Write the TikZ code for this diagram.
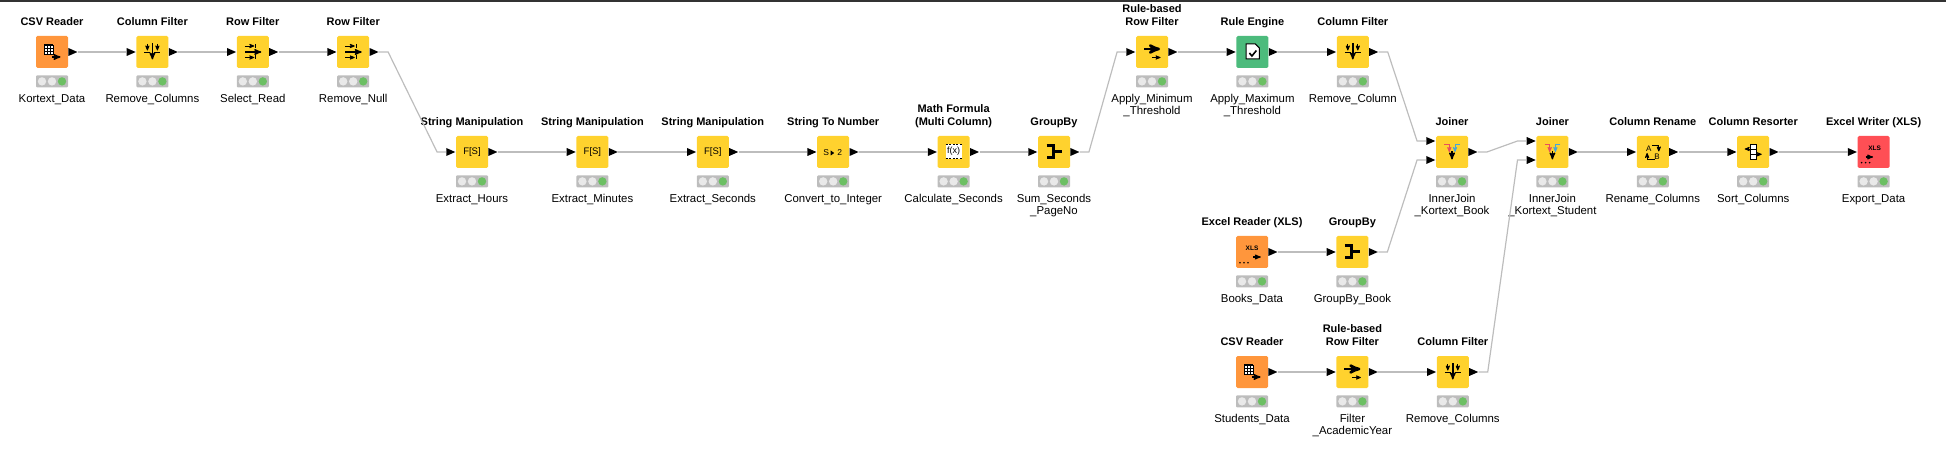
\documentclass[tikz,border=0pt]{standalone}
\usepackage{fontspec}
\setmainfont{Liberation Sans}
\usetikzlibrary{positioning,calc,arrows,shapes.geometric}
\definecolor{kyellow}{HTML}{FFD22E}
\definecolor{korange}{HTML}{FF963C}
\definecolor{kred}{HTML}{FF4F55}
\definecolor{kgreen}{HTML}{4CBB7C}
\definecolor{klamp}{HTML}{BDBDBD}
\definecolor{klampoff}{HTML}{E9E9E9}
\definecolor{klampon}{HTML}{6CBF63}
\definecolor{klink}{HTML}{BDBDBD}
\definecolor{kjoinred}{HTML}{E8505B}
\definecolor{kjoinblue}{HTML}{4AA6D6}
\tikzset{
  knode/.style={rectangle,rounded corners=1.5pt,minimum size=32pt,inner sep=0pt},
  tool/.style={knode,fill=kyellow},
  reader/.style={knode,fill=korange},
  writer/.style={knode,fill=kred},
  engine/.style={knode,fill=kgreen},
  khead/.style={font=\bfseries\fontsize{11}{13}\selectfont,align=center,inner sep=0pt,text depth=0pt,label distance=10pt},
  kname/.style={font=\fontsize{11.4}{12}\selectfont,align=center,inner sep=0pt,label distance=26pt},
  lampbar/.style={rectangle,rounded corners=1pt,fill=klamp,minimum width=32pt,minimum height=12pt,inner sep=0pt},
  port/.style={isosceles triangle,isosceles triangle stretches,fill=black,inner sep=0pt,
    minimum width=8pt,minimum height=9pt,shape border rotate=0},
  link/.style={draw=klink,line width=1.2pt},
  kink/.style={to path={-- ++(9,0) -- ($(\tikztotarget)+(-9,0)$) -- (\tikztotarget)}},
  thinarrow/.style={->,>=stealth',line width=0.8pt,shorten >=-0.5pt},
  fatarrow/.style={->,>=stealth',line width=1.4pt,shorten >=-0.5pt},
  icontext/.style={inner sep=0pt,font=\bfseries\fontsize{6.5}{7}\selectfont}
}
\newcommand{\icontable}[1]{\begin{scope}[shift={(#1)}]
  \fill[white] (-8,-7) rectangle (1,2);
  \draw[line width=0.7pt] (-8,-7) rectangle (1,2);
  \foreach \gridx in {-5,-2} \draw[line width=0.7pt] (\gridx,-7) -- (\gridx,2);
  \foreach \gridy in {-4,-1} \draw[line width=0.7pt] (-8,\gridy) -- (1,\gridy);
  \draw[line width=1.6pt] (-8,-7) -- (1,-7);
  \draw[fatarrow] (0,5) -- (8,5);
\end{scope}}
\newcommand{\iconxlsread}[1]{\begin{scope}[shift={(#1)}]
  \node[icontext] (#1-xls) at (0,-3.7) {XLS};
  \draw[fatarrow,line width=1.1pt] (1,5) -- (8.3,5);
  \foreach \dotx in {-12,-8,-4} \fill (\dotx,10.7) circle (0.9pt);
\end{scope}}
\newcommand{\iconxlswrite}[1]{\begin{scope}[shift={(#1)}]
  \node[icontext] (#1-xls) at (1,-3.7) {XLS};
  \draw[fatarrow,line width=1.1pt] (-8,5) -- (-1,5);
  \foreach \dotx in {-12,-8,-4} \fill (\dotx,10.7) circle (0.9pt);
\end{scope}}
\newcommand{\iconcolumn}[1]{\begin{scope}[shift={(#1)}]
  \draw[fatarrow] (0,-9) -- (0,7);
  \draw[thinarrow] (-5,-8) -- (-5,-2);
  \draw[thinarrow] (5,-8) -- (5,-2);
  \draw[line width=0.8pt] (-8,0.5) -- (-2,0.5) (2,0.5) -- (8,0.5);
\end{scope}}
\newcommand{\iconrow}[1]{\begin{scope}[shift={(#1)}]
  \draw[fatarrow] (-8,0) -- (8,0);
  \draw[thinarrow] (-8,-6) -- (1,-6);
  \draw[thinarrow] (-8,5.5) -- (1,5.5);
  \draw[line width=0.8pt] (3,-8) -- (3,-4) (3,3.5) -- (3,7.5);
\end{scope}}
\newcommand{\iconrule}[1]{\begin{scope}[shift={(#1)}]
  \draw[->,>=stealth',line width=2.6pt] (-8,-3) -- (8,-3);
  \draw[thinarrow] (0,5.5) -- (8,5.5);
\end{scope}}
\newcommand{\iconcheck}[1]{\begin{scope}[shift={(#1)}]
  \draw[line width=1pt,fill=white] (-6.3,-8) -- (3,-8) -- (7,-4) -- (7,7) -- (-6.3,7) -- cycle;
  \draw[line width=1.6pt] (-3,1) -- (-0.5,4) -- (4,-1.5);
\end{scope}}
\newcommand{\iconstring}[1]{\begin{scope}[shift={(#1)}]
  \node[inner sep=0pt,font=\fontsize{9.5}{10}\selectfont] (#1-txt) at (0,0) {F[S]};
\end{scope}}
\newcommand{\iconnumber}[1]{\begin{scope}[shift={(#1)}]
  \node[inner sep=0pt,font=\fontsize{8.5}{9}\selectfont] (#1-s) at (-7,1) {S};
  \node[inner sep=0pt,font=\fontsize{8.5}{9}\selectfont] (#1-two) at (6.5,1) {2};
  \fill (-2.5,-1.5) -- (1,1) -- (-2.5,3.5) -- cycle;
\end{scope}}
\newcommand{\iconformula}[1]{\begin{scope}[shift={(#1)}]
  \fill[white] (-8,-8) rectangle (8,7);
  \draw[line width=1.6pt,dash pattern=on 2pt off 1.5pt] (-8,-7.5) -- (8,-7.5) (-8,6.5) -- (8,6.5);
  \node[inner sep=0pt,font=\fontsize{9}{10}\selectfont] (#1-txt) at (0,-0.5) {f(x)};
\end{scope}}
\newcommand{\icongroup}[1]{\begin{scope}[shift={(#1)}]
  \draw[line width=3pt] (-7.5,-6) -- (-1,-6) -- (-1,5.5) -- (-7.5,5.5);
  \draw[line width=3pt] (-1,0) -- (8,0);
\end{scope}}
\newcommand{\iconjoin}[1]{\begin{scope}[shift={(#1)}]
  \draw[thinarrow,kjoinred] (-7.7,-7.7) -- (-2.7,-7.7) -- (-2.7,-0.5);
  \draw[thinarrow,kjoinblue] (8,-7.7) -- (3,-7.7) -- (3,-0.5);
  \draw[fatarrow] (0,-1) -- (0,7);
\end{scope}}
\newcommand{\iconrename}[1]{\begin{scope}[shift={(#1)}]
  \node[icontext,font=\fontsize{8}{8}\selectfont] (#1-a) at (-4,-3.7) {A};
  \node[icontext,font=\fontsize{8}{8}\selectfont] (#1-b) at (4.3,5) {B};
  \draw[thinarrow] (-1,-7) -- (6,-7) -- (6,-1);
  \draw[thinarrow] (2,7.3) -- (-5.7,7.3) -- (-5.7,1.5);
\end{scope}}
\newcommand{\iconsort}[1]{\begin{scope}[shift={(#1)}]
  \draw[line width=0.8pt,fill=white] (-3,-7.7) rectangle (3,7.7);
  \draw[line width=0.8pt] (-3,-2.5) -- (3,-2.5) (-3,2.5) -- (3,2.5);
  \draw[thinarrow] (0,-3) -- (-8,-3);
  \draw[thinarrow] (0,2.3) -- (8,2.3);
\end{scope}}

\begin{document}
\begin{tikzpicture}[x=1pt,y=-1pt,node distance=68pt]
  \useasboundingbox (0,0) rectangle (1946,470);
  \fill[black!80] (0,0) rectangle (1946,2);

  % top row
  \node[reader,label={[khead]above:CSV Reader},label={[kname]below:Kortext\_Data}] (csvkortext) at (52,52) {};
  \node[tool,right=of csvkortext,label={[khead]above:Column Filter},label={[kname]below:Remove\_Columns}] (colremove) {};
  \node[tool,right=of colremove,label={[khead]above:Row Filter},label={[kname]below:Select\_Read}] (rowread) {};
  \node[tool,right=of rowread,label={[khead]above:Row Filter},label={[kname]below:Remove\_Null}] (rownull) {};

  % second row
  \node[tool,label={[khead]above:String Manipulation},label={[kname]below:Extract\_Hours}] (strhours) at (472,152) {};
  \node[tool,right=88pt of strhours,label={[khead]above:String Manipulation},label={[kname]below:Extract\_Minutes}] (strminutes) {};
  \node[tool,right=88pt of strminutes,label={[khead]above:String Manipulation},label={[kname]below:Extract\_Seconds}] (strseconds) {};
  \node[tool,right=88pt of strseconds,label={[khead]above:String To Number},label={[kname]below:Convert\_to\_Integer}] (tonumber) {};
  \node[tool,right=88pt of tonumber,label={[khead]above:Math Formula\\(Multi Column)},label={[kname]below:Calculate\_Seconds}] (mathsec) {};
  \node[tool,right=of mathsec,label={[khead]above:GroupBy},label={[kname]below:Sum\_Seconds\\\_PageNo}] (groupsec) {};

  \node[tool,label={[khead]above:Rule-based\\Row Filter},label={[kname]below:Apply\_Minimum\\\_Threshold}] (ruleminimum) at (1152,52) {};
  \node[engine,right=of ruleminimum,label={[khead]above:Rule Engine},label={[kname]below:Apply\_Maximum\\\_Threshold}] (rulemaximum) {};
  \node[tool,right=of rulemaximum,label={[khead]above:Column Filter},label={[kname]below:Remove\_Column}] (colthreshold) {};

  % joiners and output
  \node[tool,label={[khead]above:Joiner},label={[kname]below:InnerJoin\\\_Kortext\_Book}] (joinbook) at (1452,152) {};
  \node[tool,right=of joinbook,label={[khead]above:Joiner},label={[kname]below:InnerJoin\\\_Kortext\_Student}] (joinstudent) {};
  \node[tool,right=of joinstudent,label={[khead]above:Column Rename},label={[kname]below:Rename\_Columns}] (renamecols) {};
  \node[tool,right=of renamecols,label={[khead]above:Column Resorter},label={[kname]below:Sort\_Columns}] (sortcols) {};
  \node[writer,right=88pt of sortcols,label={[khead]above:Excel Writer (XLS)},label={[kname]below:Export\_Data}] (writerdata) {};

  % lower branches
  \node[reader,label={[khead]above:Excel Reader (XLS)},label={[kname]below:Books\_Data}] (readerbooks) at (1252,252) {};
  \node[tool,right=of readerbooks,label={[khead]above:GroupBy},label={[kname]below:GroupBy\_Book}] (groupbook) {};
  \node[reader,label={[khead]above:CSV Reader},label={[kname]below:Students\_Data}] (csvstudents) at (1252,372) {};
  \node[tool,right=of csvstudents,label={[khead]above:Rule-based\\Row Filter},label={[kname]below:Filter\\\_AcademicYear}] (rulestudents) {};
  \node[tool,right=of rulestudents,label={[khead]above:Column Filter},label={[kname]below:Remove\_Columns}] (colstudents) {};

  % status lamps
  \foreach \n in {csvkortext,colremove,rowread,rownull,strhours,strminutes,strseconds,tonumber,mathsec,groupsec,
    ruleminimum,rulemaximum,colthreshold,joinbook,joinstudent,renamecols,sortcols,writerdata,
    readerbooks,groupbook,csvstudents,rulestudents,colstudents}{
    \node[lampbar,below=7pt of \n] (\n-lamp) {};
    \fill[klampoff] ($(\n-lamp)+(-10,0)$) circle (4.2pt) ($(\n-lamp)$) circle (4.2pt);
    \fill[klampon] ($(\n-lamp)+(10,0)$) circle (4.2pt);
  }

  % ports
  \foreach \n in {csvkortext,colremove,rowread,rownull,strhours,strminutes,strseconds,tonumber,mathsec,groupsec,
    ruleminimum,rulemaximum,colthreshold,joinbook,joinstudent,renamecols,sortcols,
    readerbooks,groupbook,csvstudents,rulestudents,colstudents}
    \node[port,anchor=lower side] (\n-out) at (\n.east) {};
  \foreach \n in {colremove,rowread,rownull,strhours,strminutes,strseconds,tonumber,mathsec,groupsec,
    ruleminimum,rulemaximum,colthreshold,renamecols,sortcols,writerdata,groupbook,rulestudents,colstudents}
    \node[port,anchor=apex] (\n-in) at (\n.west) {};
  \foreach \n in {joinbook,joinstudent}{
    \node[port,anchor=apex] (\n-in1) at ($(\n.west)+(0,-11)$) {};
    \node[port,anchor=apex] (\n-in2) at ($(\n.west)+(0,8)$) {};
  }

  % connectors
  \draw[link] (csvkortext-out.apex) -- (colremove-in.lower side);
  \draw[link] (colremove-out.apex) -- (rowread-in.lower side);
  \draw[link] (rowread-out.apex) -- (rownull-in.lower side);
  \draw[link] (rownull-out.apex) to[kink] (strhours-in.lower side);
  \draw[link] (strhours-out.apex) -- (strminutes-in.lower side);
  \draw[link] (strminutes-out.apex) -- (strseconds-in.lower side);
  \draw[link] (strseconds-out.apex) -- (tonumber-in.lower side);
  \draw[link] (tonumber-out.apex) -- (mathsec-in.lower side);
  \draw[link] (mathsec-out.apex) -- (groupsec-in.lower side);
  \draw[link] (groupsec-out.apex) to[kink] (ruleminimum-in.lower side);
  \draw[link] (ruleminimum-out.apex) -- (rulemaximum-in.lower side);
  \draw[link] (rulemaximum-out.apex) -- (colthreshold-in.lower side);
  \draw[link] (colthreshold-out.apex) to[kink] (joinbook-in1.lower side);
  \draw[link] (groupbook-out.apex) to[kink] (joinbook-in2.lower side);
  \draw[link] (joinbook-out.apex) to[kink] (joinstudent-in1.lower side);
  \draw[link] (colstudents-out.apex) to[kink] (joinstudent-in2.lower side);
  \draw[link] (joinstudent-out.apex) -- (renamecols-in.lower side);
  \draw[link] (renamecols-out.apex) -- (sortcols-in.lower side);
  \draw[link] (sortcols-out.apex) -- (writerdata-in.lower side);
  \draw[link] (readerbooks-out.apex) -- (groupbook-in.lower side);
  \draw[link] (csvstudents-out.apex) -- (rulestudents-in.lower side);
  \draw[link] (rulestudents-out.apex) -- (colstudents-in.lower side);

  % icons
  \icontable{csvkortext}
  \icontable{csvstudents}
  \iconxlsread{readerbooks}
  \iconxlswrite{writerdata}
  \iconcolumn{colremove}
  \iconcolumn{colthreshold}
  \iconcolumn{colstudents}
  \iconrow{rowread}
  \iconrow{rownull}
  \iconrule{ruleminimum}
  \iconrule{rulestudents}
  \iconcheck{rulemaximum}
  \iconstring{strhours}
  \iconstring{strminutes}
  \iconstring{strseconds}
  \iconnumber{tonumber}
  \iconformula{mathsec}
  \icongroup{groupsec}
  \icongroup{groupbook}
  \iconjoin{joinbook}
  \iconjoin{joinstudent}
  \iconrename{renamecols}
  \iconsort{sortcols}
\end{tikzpicture}
\end{document}
